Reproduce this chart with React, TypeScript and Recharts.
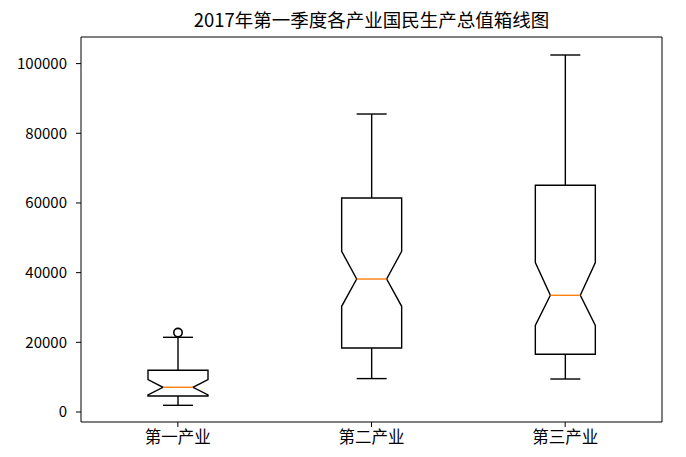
import { ComposedChart, Bar, XAxis, YAxis } from "recharts";

const categories = ["第一产业", "第二产业", "第三产业"];
const whiskerLow = [1920, 9590, 9470];
const q1 = [4590, 18370, 16560];
const notchLow = [4880, 30340, 24880];
const median = [7090, 38170, 33490];
const notchHigh = [9300, 46120, 42880];
const q3 = [11970, 61420, 65070];
const whiskerHigh = [21440, 85530, 102470];
const outliers: number[][] = [[22790], [], []];

const yTicks = [0, 20000, 40000, 60000, 80000, 100000];

const FONT = "'Noto Sans CJK SC', 'Noto Sans', sans-serif";
const LINE = "#000";
const MEDIAN = "#ff7f0e";

const rows = categories.map((name, i) => {
  const top = Math.max(whiskerHigh[i], ...outliers[i]);
  return {
    name,
    range: [whiskerLow[i], top],
    lo: whiskerLow[i],
    q1: q1[i],
    nlo: notchLow[i],
    med: median[i],
    nhi: notchHigh[i],
    q3: q3[i],
    hi: whiskerHigh[i],
    top,
    out: outliers[i],
  };
});

// notched box drawn from the bar's pixel range
function BoxShape(props: any) {
  const { x, y, width, height, payload } = props;
  const p = payload;
  const h = Math.abs(height);
  const yTop = Math.min(y, y + height);
  const ppu = h / (p.top - p.lo);
  const Y = (v: number) => yTop + (p.top - v) * ppu;
  const cx = x + width / 2;
  const l = x;
  const r = x + width;
  const inset = width / 4;
  const cap = width / 4;
  const path = [
    `M${l},${Y(p.q1)}`,
    `L${r},${Y(p.q1)}`,
    `L${r},${Y(p.nlo)}`,
    `L${r - inset},${Y(p.med)}`,
    `L${r},${Y(p.nhi)}`,
    `L${r},${Y(p.q3)}`,
    `L${l},${Y(p.q3)}`,
    `L${l},${Y(p.nhi)}`,
    `L${l + inset},${Y(p.med)}`,
    `L${l},${Y(p.nlo)}`,
    "Z",
  ].join(" ");
  return (
    <g>
      <line x1={cx} x2={cx} y1={Y(p.q3)} y2={Y(p.hi)} stroke={LINE} strokeWidth={1.4} />
      <line x1={cx} x2={cx} y1={Y(p.q1)} y2={Y(p.lo)} stroke={LINE} strokeWidth={1.4} />
      <line x1={cx - cap} x2={cx + cap} y1={Y(p.hi)} y2={Y(p.hi)} stroke={LINE} strokeWidth={1.4} />
      <line x1={cx - cap} x2={cx + cap} y1={Y(p.lo)} y2={Y(p.lo)} stroke={LINE} strokeWidth={1.4} />
      <path d={path} fill="none" stroke={LINE} strokeWidth={1.4} strokeLinejoin="miter" />
      <line
        x1={l + inset}
        x2={r - inset}
        y1={Y(p.med)}
        y2={Y(p.med)}
        stroke={MEDIAN}
        strokeWidth={1.4}
      />
      {p.out.map((v: number, k: number) => (
        <circle key={k} cx={cx} cy={Y(v)} r={4.2} fill="none" stroke={LINE} strokeWidth={1.6} />
      ))}
    </g>
  );
}

export default function App() {
  return (
    <div style={{ position: "absolute", left: 0, top: 0, width: 686, height: 457, background: "#fff" }}>
      <div
        style={{
          position: "absolute",
          left: 81,
          width: 581,
          top: 8,
          textAlign: "center",
          fontFamily: FONT,
          fontSize: 18.5,
          lineHeight: "22px",
          color: "#000",
        }}
      >
        2017年第一季度各产业国民生产总值箱线图
      </div>
      <ComposedChart
        width={686}
        height={457}
        data={rows}
        margin={{ top: 36, right: 23, bottom: 0, left: 0 }}
      >
        <XAxis
          dataKey="name"
          xAxisId="b"
          height={35}
          tickSize={5}
          tickMargin={4}
          stroke={LINE}
          tick={{ fill: "#000", fontSize: 16.5, fontFamily: FONT }}
        />
        <XAxis dataKey="name" xAxisId="t" orientation="top" height={1} tick={false} tickLine={false} stroke={LINE} />
        <YAxis
          yAxisId="l"
          width={81}
          domain={[-2870, 107635]}
          ticks={yTicks}
          interval={0}
          tickSize={5}
          tickMargin={9}
          stroke={LINE}
          tick={{ fill: "#000", fontSize: 15, fontFamily: FONT }}
        />
        <YAxis yAxisId="r" orientation="right" width={1} domain={[-2870, 107635]} tick={false} tickLine={false} stroke={LINE} />
        <Bar
          dataKey="range"
          xAxisId="b"
          yAxisId="l"
          barSize={60}
          shape={BoxShape}
          isAnimationActive={false}
        />
      </ComposedChart>
    </div>
  );
}
